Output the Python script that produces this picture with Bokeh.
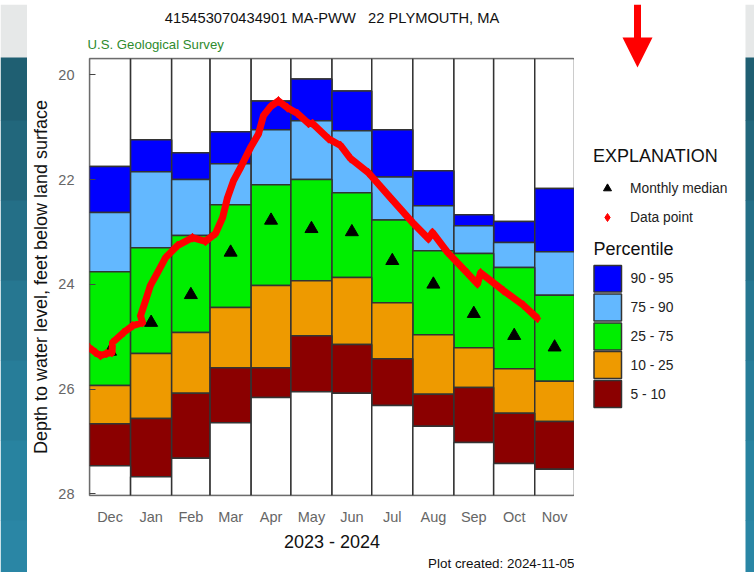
from bokeh.embed import file_html
from bokeh.resources import INLINE
from bokeh.plotting import figure
from bokeh.layouts import column, row
from bokeh.core.properties import value
from bokeh.models import Range1d, FixedTicker, Legend, LegendItem, Title

FONT = "Liberation Sans"

months = ["Dec", "Jan", "Feb", "Mar", "Apr", "May", "Jun", "Jul", "Aug", "Sep", "Oct", "Nov"]
month_days = [31, 31, 29, 31, 30, 31, 30, 31, 31, 30, 31, 30]

p95 = [21.75, 21.24, 21.49, 21.09, 20.50, 20.08, 20.31, 21.05, 21.83, 22.67, 22.80, 22.17]
p90 = [22.63, 21.85, 22.00, 21.70, 21.05, 20.88, 21.07, 21.95, 22.50, 22.88, 23.20, 23.38]
p75 = [23.76, 23.30, 23.07, 22.48, 22.10, 22.00, 22.25, 22.77, 23.36, 23.41, 23.68, 24.21]
p25 = [25.93, 25.32, 24.92, 24.44, 24.02, 23.93, 23.87, 24.35, 24.96, 25.21, 25.61, 25.85]
p10 = [26.66, 26.56, 26.08, 25.59, 25.59, 24.98, 25.15, 25.42, 26.10, 25.97, 26.46, 26.62]
p05 = [27.46, 27.67, 27.32, 26.64, 26.16, 26.05, 26.08, 26.31, 26.71, 27.02, 27.42, 27.53]
medians = [25.28, 24.73, 24.20, 23.39, 22.78, 22.94, 23.00, 23.55, 24.00, 24.56, 24.98, 25.20]

data_day = [0, 4.5, 8.3, 12.8, 17.0, 17.4, 25.7, 32.5, 40, 38.5, 42.3, 46, 51.3, 57.4, 66.4, 77.7, 87.5, 95.1,
            100.4, 104.1, 108.7, 114, 121.5, 127.5, 131.3, 136.6, 142.6, 149.4, 157, 165.3, 168.3, 180.4,
            189.4, 197, 210.5, 227.2, 244.5, 255.8, 258.8, 270.2, 285.3, 292.8, 295.1, 312.4, 327.5, 338.1]
data_depth = [25.21, 25.30, 25.36, 25.32, 25.30, 25.11, 24.92, 24.79, 24.73, 24.60, 24.31, 24.02, 23.78, 23.49,
              23.26, 23.11, 23.18, 23.03, 22.73, 22.35, 22.02, 21.77, 21.39, 21.13, 20.78, 20.61, 20.50, 20.63,
              20.74, 20.93, 20.93, 21.22, 21.35, 21.60, 21.87, 22.35, 22.84, 23.13, 23.01, 23.39, 23.79, 23.99,
              23.78, 24.12, 24.40, 24.65]

TOP, BOTTOM = 19.69, 28.03
y_ticks = [20, 22, 24, 26, 28]

BLUE, SKY, GREEN, ORANGE, MAROON = "#0000FF", "#63B8FF", "#00EE00", "#EE9A00", "#8B0000"
EDGE = "#333333"
RED = "#FF0000"

# ---------- main plot (page x 27..574, y 4..572)
p = figure(width=547, height=568, output_backend="svg", toolbar_location=None, frame_align=False,
           x_range=Range1d(0, 366), y_range=Range1d(BOTTOM, TOP),
           min_border_left=62, min_border_right=0, min_border_top=54, min_border_bottom=77,
           border_fill_color="white", background_fill_color="white")
p.grid.visible = False
p.outline_line_color = "#8a8a8a"
p.outline_line_width = 1.5

left, right = [], []
d = 0
for n in month_days:
    left.append(d)
    d += n
    right.append(d)
mid = [(a + b) / 2 for a, b in zip(left, right)]

bands = [([TOP] * 12, p95, "white"), (p95, p90, BLUE), (p90, p75, SKY), (p75, p25, GREEN),
         (p25, p10, ORANGE), (p10, p05, MAROON), (p05, [BOTTOM] * 12, "white")]
for upper, lower, colour in bands:
    p.quad(left=left, right=right, top=upper, bottom=lower, fill_color=colour, line_color=EDGE, line_width=1.5)

p.scatter(mid, medians, marker="triangle", size=13, color="black")
p.line(data_day, data_depth, line_color=RED, line_width=7, line_join="round")
p.scatter(data_day, data_depth, marker="diamond", size=9, color=RED)

p.yaxis.ticker = FixedTicker(ticks=y_ticks)
p.yaxis.major_tick_in = 6
p.yaxis.major_tick_out = 0
p.yaxis.minor_tick_line_color = None
p.yaxis.axis_line_color = None
p.yaxis.major_tick_line_color = "#444444"
p.yaxis.major_label_text_color = "#666666"
p.yaxis.major_label_text_font = FONT
p.yaxis.major_label_text_font_size = "14.5px"
p.yaxis.major_label_standoff = 15
p.yaxis.axis_label = "Depth to water level, feet below land surface"
p.yaxis.axis_label_text_font = FONT
p.yaxis.axis_label_text_font_style = "normal"
p.yaxis.axis_label_text_font_size = "18px"
p.yaxis.axis_label_text_color = "#111111"
p.yaxis.axis_label_standoff = 4

p.xaxis.ticker = FixedTicker(ticks=mid)
p.xaxis.major_label_overrides = {m: t for m, t in zip(mid, months)}
p.xaxis.major_tick_line_color = None
p.xaxis.minor_tick_line_color = None
p.xaxis.axis_line_color = None
p.xaxis.major_label_text_color = "#666666"
p.xaxis.major_label_text_font = FONT
p.xaxis.major_label_text_font_size = "14.5px"
p.xaxis.major_label_standoff = 7
p.xaxis.axis_label = "2023 - 2024"
p.xaxis.axis_label_text_font = FONT
p.xaxis.axis_label_text_font_style = "normal"
p.xaxis.axis_label_text_font_size = "18px"
p.xaxis.axis_label_text_color = "#111111"
p.xaxis.axis_label_standoff = 4

p.add_layout(Title(text="U.S. Geological Survey", align="left", offset=-2, text_font=FONT, text_font_size="13.2px",
                   text_font_style="normal", text_color="#2E8B2E", standoff=13), "above")
p.add_layout(Title(text="415453070434901 MA-PWW\u00a0\u00a0\u00a022 PLYMOUTH, MA", align="center", text_font=FONT,
                   text_font_size="14.7px", text_font_style="normal", text_color="#111111", standoff=6), "above")
p.add_layout(Title(text="Plot created: 2024-11-05", align="right", text_font=FONT, text_font_size="13.4px",
                   text_font_style="normal", text_color="#111111", standoff=-2), "below")

# ---------- right side: legends and arrow, in page pixels (x 574..754, y 4..572)
q = figure(width=180, height=568, output_backend="svg", toolbar_location=None, frame_align=False,
           x_range=Range1d(574, 754), y_range=Range1d(572, 4), x_axis_type=None, y_axis_type=None,
           min_border=0, outline_line_color=None, border_fill_color="white", background_fill_color="white")
q.grid.visible = False

strip_tops = [4, 57, 120, 200, 280, 360, 440, 520]
strip_ends = [57, 120, 200, 280, 360, 440, 520, 572]
strip_cols = ["#E6E8E8", "#1F5F72", "#22677C", "#246F87", "#267791", "#277D99", "#2883A0", "#2A86A5"]
q.quad(left=745, right=754, top=strip_tops, bottom=[e + 0.5 for e in strip_ends], fill_color=strip_cols, line_color=None)

q.patch([633.5, 640.5, 640.5, 652, 637, 622, 633.5], [4, 4, 37, 37, 67, 37, 37], color=RED, line_color=None)

# legend keys only: their single point lies outside the visible range
med_key = q.scatter([0], [0], marker="triangle", color="black")
pts_key = q.scatter([0], [0], marker="diamond", color=RED)
l1 = Legend(items=[LegendItem(label="Monthly median", renderers=[med_key]),
                   LegendItem(label="Data point", renderers=[pts_key])],
            title="EXPLANATION", location=(19, 345), glyph_width=28, label_standoff=9,
            glyph_height=20, label_height=20, spacing=9, title_standoff=11,
            orientation="vertical", padding=0, margin=0, border_line_color=None, background_fill_alpha=0,
            label_text_font=FONT, label_text_font_size="13.8px", label_text_color="#222222",
            title_text_font=FONT, title_text_font_size="18px", title_text_font_style="normal",
            title_text_color="#111111")
q.add_layout(l1, "center")

# percentile key, drawn directly so that the boxes sit as tightly as in the reference
pct_labels = ["90 - 95", "75 - 90", "25 - 75", "10 - 25", "5 - 10"]
pct_colours = [BLUE, SKY, GREEN, ORANGE, MAROON]
key_tops = [265, 293.5, 322.5, 351, 380]
key_ends = [291.5, 320.5, 349.5, 378, 407]
q.quad(left=593.5, right=621, top=key_tops, bottom=key_ends, fill_color=pct_colours, line_color=EDGE, line_width=1.5)
q.text(x=[630] * 5, y=[(a + b) / 2 for a, b in zip(key_tops, key_ends)], text=pct_labels, text_font=value(FONT),
       text_font_size="13.8px", text_color="#222222", text_baseline="middle", text_align="left")
q.text(x=[593], y=[248], text=["Percentile"], text_font=value(FONT), text_font_size="18px",
       text_color="#111111", text_baseline="middle", text_align="left")

# ---------- left strip of the surrounding page (x 0..27)
s = figure(width=27, height=568, output_backend="svg", toolbar_location=None, frame_align=False,
           x_range=Range1d(0, 27), y_range=Range1d(572, 4), x_axis_type=None, y_axis_type=None,
           min_border=0, outline_line_color=None, border_fill_color="white")
s.grid.visible = False
s.quad(left=0, right=27, top=strip_tops, bottom=[e + 0.5 for e in strip_ends], fill_color=strip_cols, line_color=None)

# ---------- top strip of the surrounding page (y 0..4)
t = figure(width=754, height=4, output_backend="svg", toolbar_location=None, frame_align=False,
           x_range=Range1d(0, 754), y_range=Range1d(4, 0), x_axis_type=None, y_axis_type=None,
           min_border=0, outline_line_color=None, border_fill_color="#E6E8E8", background_fill_color="#E6E8E8")
t.grid.visible = False
t.quad(left=[376, 633.5], right=[389, 640.5], top=0, bottom=4, fill_color=["#33CC33", RED], line_color=None)

page = column(t, row(s, p, q, spacing=0), spacing=0)
open("out.html", "w").write(file_html(page, INLINE))
